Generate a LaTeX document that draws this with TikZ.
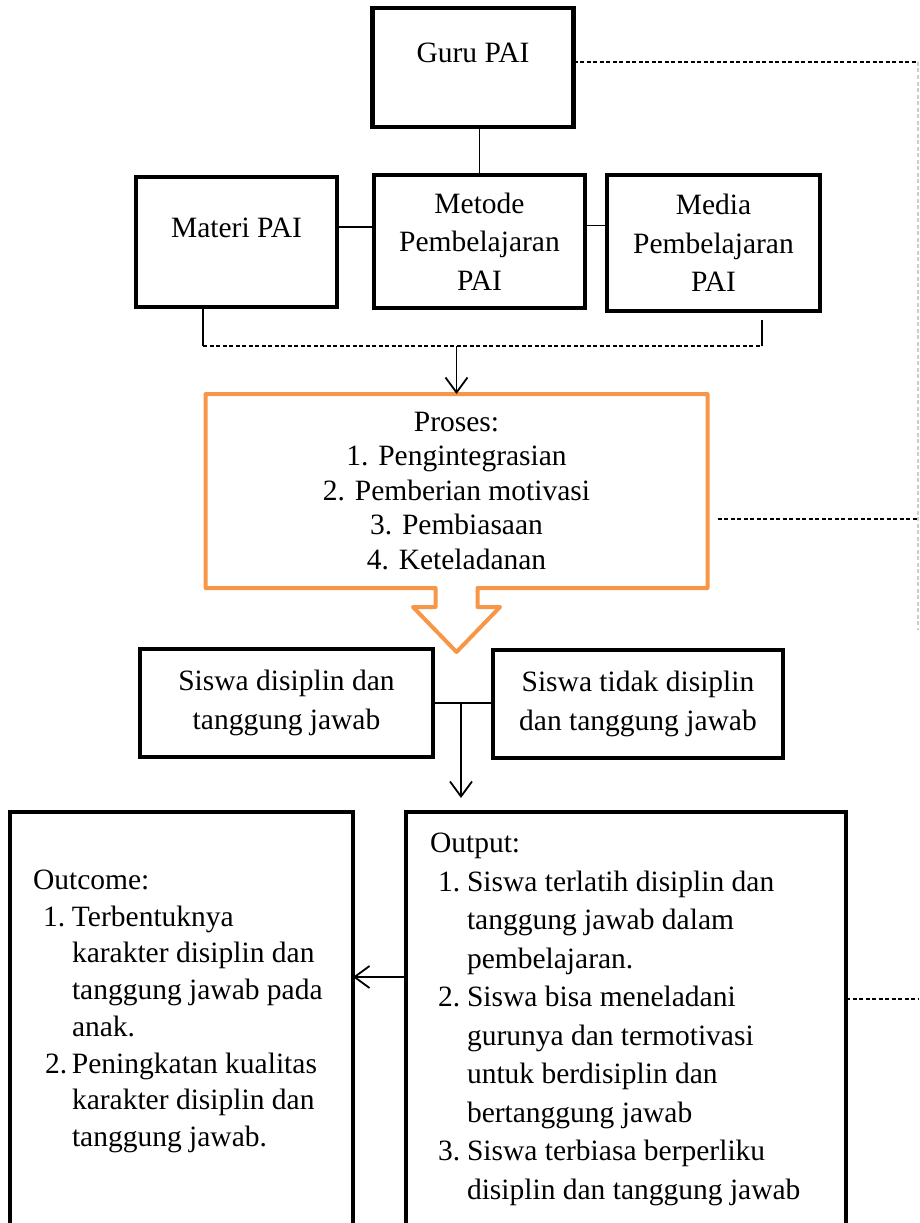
\documentclass[tikz,border=0pt]{standalone}
\usepackage{fontspec}
\setmainfont{Liberation Serif}
\usetikzlibrary{positioning}
\usetikzlibrary{arrows.meta}
\definecolor{oranye}{HTML}{F79646}
\tikzset{
    mybox/.style = {rectangle, line width=4.5pt, draw=black, align=center, inner sep=0pt, outer sep=0pt, font=\fontsize{29.5}{38.5}\selectfont, text=black},
    myboxt/.style = {mybox, text depth=29pt}, % text near the top
    myproses/.style = {rectangle, draw=none, align=center, inner sep=0pt, outer sep=0pt, font=\fontsize{29.5}{34.5}\selectfont, text=black},
    mylist/.style = {align=left, inner sep=0pt, outer sep=0pt, font=\fontsize{29.5}{38.5}\selectfont, text=black},
    edgen/.style = {-, line width=1.8pt, black},
    edgea/.style = {-{Straight Barb[length=15pt,width=22pt]}, line width=1.8pt, black},
    edged/.style = {-, line width=1.5pt, black, dash pattern=on 4pt off 2.5pt},
    edgeg/.style = {-, line width=1.5pt, gray!40, dash pattern=on 4pt off 2.5pt},
    edgeo/.style = {-, line width=4pt, oranye, line join=round},
}
\begin{document}
\begin{tikzpicture}[x=1pt, y=-1pt]
\useasboundingbox (0,0) rectangle (920,1223);
\clip (0,0) rectangle (920,1223);
\node[myboxt, minimum width=201pt, minimum height=119pt] at (473, 67.5) (guru) {Guru PAI};
\node[myboxt, minimum width=201pt, minimum height=130pt] at (236.5, 242) (materi) {Materi PAI};
\node[mybox, minimum width=211pt, minimum height=133pt] at (479.5, 241.5) (metode) {Metode\\Pembelajaran\\PAI};
\node[mybox, minimum width=213pt, minimum height=136pt] at (713.5, 243) (media) {Media\\Pembelajaran\\PAI};
\node[myproses, minimum width=502pt, minimum height=194pt] at (456.5, 491) (proses) {Proses:\\1. Pengintegrasian\\2. Pemberian motivasi\\3. Pembiasaan\\4. Keteladanan};
\node[mybox, minimum width=293pt, minimum height=108pt] at (286.5, 703) (disiplin) {Siswa disiplin dan\\tanggung jawab};
\node[mybox, minimum width=290pt, minimum height=108pt] at (638, 704) (tidak) {Siswa tidak disiplin\\dan tanggung jawab};
\node[mybox, anchor=north west, minimum width=343pt, minimum height=440pt] at (10, 812) (outcome) {};
\node[mybox, anchor=north west, minimum width=440pt, minimum height=440pt] at (406, 812) (output) {};
\node[mylist, anchor=north west, font=\fontsize{29.5}{36.7}\selectfont] at (33, 870) (outcometeks) {Outcome:\\
\hspace*{10pt}\makebox[29pt][l]{1.}Terbentuknya\\
\hspace*{39pt}karakter disiplin dan\\
\hspace*{39pt}tanggung jawab pada\\
\hspace*{39pt}anak.\\
\hspace*{12pt}\makebox[27pt][l]{2.}Peningkatan kualitas\\
\hspace*{39pt}karakter disiplin dan\\
\hspace*{39pt}tanggung jawab.};
\node[mylist, anchor=north west] at (430, 833) (outputteks) {Output:\\
\hspace*{8pt}\makebox[29pt][l]{1.}Siswa terlatih disiplin dan\\
\hspace*{37pt}tanggung jawab dalam\\
\hspace*{37pt}pembelajaran.\\
\hspace*{8pt}\makebox[29pt][l]{2.}Siswa bisa meneladani\\
\hspace*{37pt}gurunya dan termotivasi\\
\hspace*{37pt}untuk berdisiplin dan\\
\hspace*{37pt}bertanggung jawab\\
\hspace*{8pt}\makebox[29pt][l]{3.}Siswa terbiasa berperliku\\
\hspace*{37pt}disiplin dan tanggung jawab};
%
\coordinate (kurungkiri) at (203, 346);
\coordinate (kurungkanan) at (762, 346);
\coordinate (kurungatas) at (762, 320);
\coordinate (cabang) at (461, 703);
\coordinate (ujung) at (461, 798);
\coordinate (panah) at (406, 977);
\coordinate (kananatas) at (918, 62);
\coordinate (kananbawah) at (918, 630);
\coordinate (kanantengah) at (918, 519);
\coordinate (kananoutput) at (918, 999);
%
\draw[edgeo] (proses.north west) -- (proses.north east) -- (proses.south east)
  -- ([xshift=21pt]proses.south) -- ([xshift=21pt,yshift=-19pt]proses.south)
  -- ([xshift=43.5pt,yshift=-19pt]proses.south) -- ([yshift=-64pt]proses.south)
  -- ([xshift=-43.5pt,yshift=-19pt]proses.south) -- ([xshift=-21pt,yshift=-19pt]proses.south)
  -- ([xshift=-21pt]proses.south) -- (proses.south west) -- cycle;
%
\draw[edgen] (metode.north) -- (metode.north |- guru.south);
\draw[edgen] ([yshift=15pt]materi.east) -- ([yshift=15pt]materi.east -| metode.west);
\draw[edgen] ([yshift=16pt]metode.east) -- ([yshift=16pt]metode.east -| media.west);
\draw[edgen] (kurungkiri |- materi.south) -- (kurungkiri);
\draw[edged] (kurungkiri) -- (kurungkanan);
\draw[edgen] (kurungkanan) -- (kurungatas);
\draw[edgea] (proses.north |- kurungkiri) -- (proses.north);
\draw[edgen] (disiplin.east |- cabang) -- (tidak.west |- cabang);
\draw[edgea] (cabang) -- (ujung);
\draw[edgea] (output.west |- panah) -- (outcome.east |- panah);
\draw[edged] (guru.east |- kananatas) -- (kananatas);
\draw[edgeg] (kananatas) -- (kananbawah);
\draw[edged] ([xshift=10pt]proses.east |- kanantengah) -- (kanantengah);
\draw[edged] (output.east |- kananoutput) -- (kananoutput);
\end{tikzpicture}
\end{document}
